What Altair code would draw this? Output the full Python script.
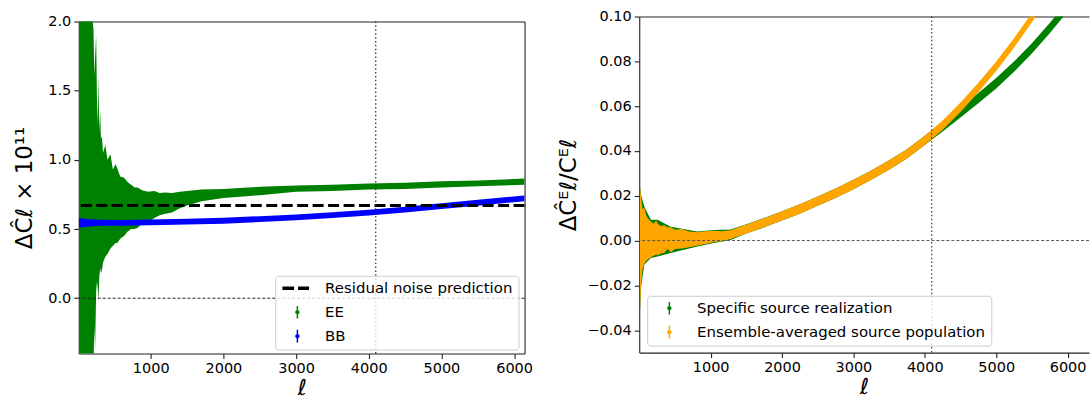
import altair as alt
import pandas as pd

# ---------------- data ----------------
# Left panel: EE band (noisy at low ell, cut at the top of the frame), BB band, residual-noise level
ee_ell = [10, 100, 190, 200, 212, 225, 235, 249, 260, 270, 281, 292, 304, 315, 327, 345, 375, 405, 445, 480,
          515, 540, 580, 633, 680, 730, 780, 822, 880, 963, 1050, 1123, 1200, 1293, 1400, 1500, 1700, 2000, 2500, 3000,
          3500, 4000, 4500, 5000, 5500, 6144]
ee_upper = [2.0, 2.0, 2.0, 2.0, 1.95, 1.6, 1.75, 1.9, 1.45, 1.25, 1.61, 1.2, 1.36, 1.15, 1.17, 1.05, 1.11, 1.0, 1.04, 0.93,
            0.97, 0.94, 0.88, 0.87, 0.84, 0.82, 0.80, 0.80, 0.78, 0.77, 0.775, 0.76, 0.765, 0.76, 0.77, 0.775, 0.785, 0.79, 0.805, 0.815,
            0.82, 0.83, 0.835, 0.845, 0.85, 0.865]
ee_lower = [-0.6, -0.6, -0.6, -0.6, -0.5, -0.2, -0.37, 0.05, 0.12, 0.08, -0.02, 0.15, 0.22, 0.18, 0.20, 0.26, 0.30, 0.32, 0.36, 0.38,
            0.40, 0.40, 0.43, 0.45, 0.48, 0.50, 0.50, 0.51, 0.54, 0.55, 0.58, 0.60, 0.61, 0.62, 0.65, 0.67, 0.70, 0.725, 0.745, 0.77,
            0.775, 0.785, 0.79, 0.80, 0.81, 0.82]

bb_ell = [10, 60, 150, 300, 600, 1000, 1500, 2000, 2500, 3000, 3500, 4000, 4500, 5000, 5500, 6144]
bb_center = [0.545, 0.545, 0.545, 0.545, 0.545, 0.548, 0.553, 0.56, 0.572, 0.585, 0.60, 0.618, 0.64, 0.665, 0.69, 0.722]
bb_halfwidth = [0.035, 0.032, 0.026, 0.022, 0.021, 0.021, 0.021, 0.021, 0.021, 0.021, 0.021, 0.021, 0.021, 0.021, 0.021, 0.021]

noise_level = [0.67]
ell_cut = [4096]
zero_level = [0.0]

left_labels = ["Residual noise prediction", "EE", "BB"]
left_colors = ["#000000", "#008000", "#0000ff"]

# Right panel: relative bias, specific realization (green) vs ensemble average (orange)
ens_ell = [10, 24, 45, 70, 100, 130, 163, 200, 240, 257, 300, 350, 396, 442, 500, 600, 700, 815, 930, 1046, 1150, 1279,
           1500, 1750, 2000, 2250, 2500, 2750, 3000, 3250, 3500, 3750, 4000, 4250, 4500, 4750, 5000, 5250, 5500, 5750, 6300]
ens_upper = [0.0237, 0.020, 0.014, 0.0148, 0.011, 0.0095, 0.0085, 0.0075, 0.0089, 0.0075, 0.0065, 0.0068, 0.0059, 0.0059,
             0.0048, 0.0052, 0.0040, 0.0037, 0.0042, 0.0044, 0.0042, 0.0046,
             0.0072, 0.0100, 0.0131, 0.0162, 0.0197, 0.0232, 0.0271, 0.0313, 0.0358, 0.0408, 0.0468, 0.0536, 0.0616,
             0.0704, 0.0799, 0.0903, 0.1016, 0.1138, 0.1441]
ens_lower = [-0.031, -0.0207, -0.013, -0.0104, -0.009, -0.0082, -0.0074, -0.0068, -0.0062, -0.0067, -0.0058, -0.0055,
             -0.0037, -0.0052, -0.0038, -0.0035, -0.0030, -0.0022, -0.0015, -0.0007, -0.0003, 0.0007,
             0.0032, 0.0060, 0.0089, 0.0120, 0.0155, 0.0190, 0.0229, 0.0271, 0.0316, 0.0366, 0.0426, 0.0494, 0.0574,
             0.0662, 0.0757, 0.0861, 0.0974, 0.1096, 0.1399]

spec_ell = [10, 24, 70, 163, 257, 442, 815, 1046, 1279,
            1500, 1750, 2000, 2250, 2500, 2750, 3000, 3250, 3500, 3750, 4000, 4250, 4500, 4750, 5000, 5250, 5500,
            5750, 6000, 6300]
spec_upper = [0.024, 0.0205, 0.0152, 0.0093, 0.0093, 0.0062, 0.0040, 0.0047, 0.0049,
              0.0073, 0.0101, 0.0131, 0.0162, 0.0197, 0.0232, 0.0271, 0.0313, 0.0358, 0.0408, 0.0468, 0.0533, 0.0595,
              0.0659, 0.0725, 0.0799, 0.0881, 0.0971, 0.1068, 0.1193]
spec_lower = [-0.0315, -0.0212, -0.0108, -0.0078, -0.0071, -0.0056, -0.0026, -0.0011, 0.0003,
              0.0031, 0.0059, 0.0089, 0.0120, 0.0155, 0.0190, 0.0229, 0.0271, 0.0316, 0.0366, 0.0426, 0.0487, 0.0549,
              0.0613, 0.0679, 0.0753, 0.0835, 0.0925, 0.1022, 0.1147]

right_labels = ["Specific source realization", "Ensemble-averaged source population"]
right_colors = ["#008000", "#ffa500"]

x_ticks = [1000, 2000, 3000, 4000, 5000, 6000]
left_y_ticks = [0.0, 0.5, 1.0, 1.5, 2.0]
right_y_ticks = [-0.04, -0.02, 0.0, 0.02, 0.04, 0.06, 0.08, 0.10]

# ---------------- styling helpers ----------------
FONT = "DejaVu Sans"
DASH_SYMBOL = "M-0.757,-0.25H0.914V0.25H-0.757Z M1.486,-0.25H3.057V0.25H1.486Z"
ERR_SYMBOL = ("M1.279,-0.9H1.493V0.9H1.279Z "
              "M1.7,0A0.314,0.314 0 1,1 1.072,0A0.314,0.314 0 1,1 1.7,0Z")


def make_legend(x, y):
    return alt.Legend(title=None, orient="none", legendX=x, legendY=y, direction="vertical",
                      labelFont=FONT, labelFontSize=15, labelColor="black", labelLimit=500,
                      symbolSize=196, symbolStrokeWidth=0, symbolOpacity=1, labelOffset=30,
                      padding=5, rowPadding=8, fillColor="rgba(255,255,255,0.8)",
                      strokeColor="#cccccc", cornerRadius=3)


def main_x_axis():
    return alt.Axis(values=x_ticks, format="d", title="ℓ", titleFontSize=22, titleFontStyle="italic",
                    titlePadding=3, grid=False)


# ---------------- left panel ----------------
# the left frame sits 5 px lower than the right one: its y range starts 5 px below the group top
LEFT_H = 338
XL = alt.Scale(domain=[10, 6144], nice=False, zero=False)
YL = alt.Scale(domain=[-0.4, 2.0], nice=False, zero=False, range=[LEFT_H, 5])

ee_df = pd.DataFrame({"ell": ee_ell, "lo": ee_lower, "hi": ee_upper})
bb_df = pd.DataFrame({"ell": bb_ell, "c": bb_center, "h": bb_halfwidth})

ee_band = alt.Chart(ee_df).mark_area(color="#008000", clip=True, opacity=1, strokeWidth=0).encode(
    x=alt.X("ell:Q", scale=XL, axis=main_x_axis()),
    y=alt.Y("lo:Q", scale=YL, axis=alt.Axis(values=left_y_ticks, format=".1f", title="ΔĈℓ × 10¹¹",
                                            titleFontSize=23, titlePadding=11, grid=False)),
    y2="hi:Q",
)
bb_band = alt.Chart(bb_df).transform_calculate(
    lo="datum.c - datum.h", hi="datum.c + datum.h"
).mark_area(color="#0000ff", clip=True, opacity=1, strokeWidth=0).encode(
    x=alt.X("ell:Q", scale=XL, axis=None),
    y=alt.Y("lo:Q", scale=YL, axis=None),
    y2="hi:Q",
)
noise_rule = alt.Chart(pd.DataFrame({"v": noise_level})).mark_rule(
    color="black", strokeWidth=3, strokeDash=[11, 4.5]
).encode(y=alt.Y("v:Q", scale=YL, axis=None))
zero_rule_l = alt.Chart(pd.DataFrame({"v": zero_level})).mark_rule(
    color="#222222", strokeWidth=1, strokeDash=[3, 2]
).encode(y=alt.Y("v:Q", scale=YL, axis=alt.Axis(orient="right", labels=False, ticks=False, title=None, grid=False)))
cut_rule_l = alt.Chart(pd.DataFrame({"ell": ell_cut})).mark_rule(
    color="#333333", strokeWidth=1.3, strokeDash=[1.5, 2.4]
).encode(
    x=alt.X("ell:Q", scale=XL, axis=alt.Axis(orient="top", offset=-5, labels=False, ticks=False, title=None, grid=False)),
    y=alt.Y(datum=2.0, scale=YL, axis=None),
    y2=alt.Y2(datum=-0.4),
)
legend_l = alt.Chart(pd.DataFrame({"label": left_labels})).mark_point(filled=True, opacity=0).encode(
    color=alt.Color("label:N", scale=alt.Scale(domain=left_labels, range=left_colors), legend=make_legend(197, 260)),
    shape=alt.Shape("label:N", scale=alt.Scale(domain=left_labels, range=[DASH_SYMBOL, ERR_SYMBOL, ERR_SYMBOL]),
                    legend=make_legend(197, 260)),
)

left = alt.layer(ee_band, bb_band, noise_rule, zero_rule_l, cut_rule_l, legend_l).resolve_axis(
    x="independent", y="independent"
).properties(width=447, height=LEFT_H)

# ---------------- right panel ----------------
XR = alt.Scale(domain=[0, 6300], nice=False, zero=False)
YR = alt.Scale(domain=[-0.05, 0.10], nice=False, zero=False)

spec_df = pd.DataFrame({"ell": spec_ell, "lo": spec_lower, "hi": spec_upper})
ens_df = pd.DataFrame({"ell": ens_ell, "lo": ens_lower, "hi": ens_upper})

spec_band = alt.Chart(spec_df).mark_area(color="#008000", clip=True, opacity=1, strokeWidth=0).encode(
    x=alt.X("ell:Q", scale=XR, axis=main_x_axis()),
    y=alt.Y("lo:Q", scale=YR, axis=alt.Axis(values=right_y_ticks, format=".2f", title="ΔĈᴱℓ/Cᴱℓ",
                                            titleFontSize=23, titlePadding=6, grid=False)),
    y2="hi:Q",
)
ens_band = alt.Chart(ens_df).mark_area(color="#ffa500", clip=True, opacity=1, strokeWidth=0).encode(
    x=alt.X("ell:Q", scale=XR, axis=None),
    y=alt.Y("lo:Q", scale=YR, axis=None),
    y2="hi:Q",
)
zero_rule_r = alt.Chart(pd.DataFrame({"v": zero_level})).mark_rule(
    color="#555555", strokeWidth=1, strokeDash=[3, 2]
).encode(y=alt.Y("v:Q", scale=YR, axis=None))
cut_rule_r = alt.Chart(pd.DataFrame({"ell": ell_cut})).mark_rule(
    color="#444444", strokeWidth=1.3, strokeDash=[1.5, 2.4]
).encode(x=alt.X("ell:Q", scale=XR, axis=alt.Axis(orient="top", labels=False, ticks=False, title=None, grid=False)))
legend_r = alt.Chart(pd.DataFrame({"label": right_labels})).mark_point(filled=True, opacity=0).encode(
    color=alt.Color("label:N", scale=alt.Scale(domain=right_labels, range=right_colors), legend=make_legend(8, 280)),
    shape=alt.Shape("label:N", scale=alt.Scale(domain=right_labels, range=[ERR_SYMBOL, ERR_SYMBOL]),
                    legend=make_legend(8, 280)),
)

right = alt.layer(spec_band, ens_band, zero_rule_r, cut_rule_r, legend_r).resolve_axis(
    x="independent", y="independent"
).properties(width=451, height=337)

chart = alt.hconcat(left, right, spacing=25).resolve_scale(
    color="independent", shape="independent"
).properties(
    padding={"left": 13, "top": 8, "right": 0, "bottom": 0}
).configure(
    background="white", font=FONT
).configure_view(
    stroke=None
).configure_axis(
    labelFont=FONT, labelFontSize=14.5, labelColor="black", labelPadding=3,
    titleFont=FONT, titleColor="black", titleFontWeight="normal",
    domainColor="#222222", domainWidth=1.1, tickColor="#222222", tickWidth=1.1, tickSize=5,
)

chart.save("out.html", embed_options={"renderer": "svg", "actions": False})
